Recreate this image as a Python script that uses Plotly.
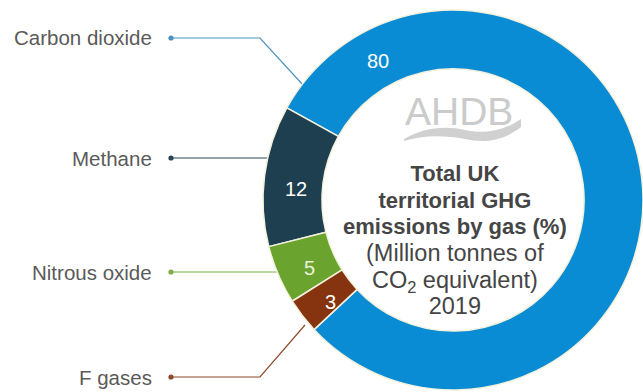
import plotly.graph_objects as go

W, H = 643, 392

# ---- data ----
gases = ["Carbon dioxide", "Methane", "Nitrous oxide", "F gases"]
shares = [80, 12, 5, 3]
colors = ["#0A8CD4", "#1E3F4F", "#6BA32F", "#86330F"]
line_colors = ["#4A93BE", "#2A4656", "#7DAF45", "#8E4A2A"]
value_text_colors = ["#FFFFFF", "#FFFFFF", "#E8F3D8", "#FFFFFF"]
value_pos_px = [(378, 61), (296, 189), (309, 268), (330, 302)]
label_y_px = [38, 158, 272, 377]

FONT = "Liberation Sans, Arial, Helvetica, sans-serif"


def px(x):
    return x / W


def py(y):
    return 1 - y / H


fig = go.Figure()

fig.add_trace(go.Pie(
    labels=gases,
    values=shares,
    textinfo="none",
    marker=dict(colors=colors, line=dict(color="#F4F1DC", width=1.5)),
    hole=0.69,
    sort=False,
    direction="counterclockwise",
    rotation=299,
    domain=dict(x=[263 / W, 1], y=[2 / H, 382 / H]),
    showlegend=False,
    hoverinfo="label+value",
))

annotations = []
shapes = []

# gas labels with leader lines
leader_paths = [
    [(171, 38), (260, 38), (303, 85)],
    [(171, 158), (270, 158)],
    [(171, 272), (279, 272)],
    [(171, 377), (260, 377), (305, 325)],
]
for name, yy, lc, pts in zip(gases, label_y_px, line_colors, leader_paths):
    annotations.append(dict(
        x=px(154), y=py(yy), xref="paper", yref="paper",
        text=name, showarrow=False, xanchor="right", yanchor="middle",
        font=dict(family=FONT, size=20.5, color="#5A5A5A"),
    ))
    path = "M " + " L ".join(f"{px(a):.5f},{py(b):.5f}" for a, b in pts)
    shapes.append(dict(type="path", xref="paper", yref="paper", path=path,
                       line=dict(color=lc, width=1.2), layer="below"))
    r = 2.6
    shapes.append(dict(type="circle", xref="paper", yref="paper",
                       x0=px(pts[0][0] - r), x1=px(pts[0][0] + r),
                       y0=py(pts[0][1] + r), y1=py(pts[0][1] - r),
                       fillcolor=lc, line=dict(width=0)))

# value labels on the ring
for v, (xx, yy), tc in zip(shares, value_pos_px, value_text_colors):
    annotations.append(dict(
        x=px(xx), y=py(yy), xref="paper", yref="paper", text=str(v),
        showarrow=False, xanchor="center", yanchor="middle",
        font=dict(family=FONT, size=20, color=tc),
    ))

# AHDB logo
annotations.append(dict(
    x=px(459), y=py(111), xref="paper", yref="paper", text="AHDB",
    showarrow=False, xanchor="center", yanchor="middle",
    font=dict(family=FONT, size=39, color="#CBCBCB"),
))


def P(a, b):
    return f"{px(a):.5f},{py(b):.5f}"


spath = (f"M {P(404, 139)} C {P(422, 128)} {P(445, 125)} {P(465, 130)} "
         f"C {P(482, 134)} {P(502, 132)} {P(521, 119)} "
         f"L {P(521, 127)} C {P(502, 142)} {P(482, 143)} {P(465, 139)} "
         f"C {P(445, 135)} {P(422, 135)} {P(404, 141)} Z")
shapes.append(dict(type="path", xref="paper", yref="paper", path=spath,
                   fillcolor="#D0D0D0", line=dict(width=0)))

# centre title
centre = ("<span style='font-size:22px'><b>Total UK</b></span><br>"
          "<span style='font-size:22px'><b>territorial GHG</b></span><br>"
          "<span style='font-size:22px'><b>emissions by gas (%)</b></span><br>"
          "<span style='font-size:23.5px'>(Million tonnes of</span><br>"
          "<span style='font-size:23.5px'>CO<sub>2</sub> equivalent)</span><br>"
          "<span style='font-size:23.5px'>2019</span>")
annotations.append(dict(
    x=px(455), y=py(240), xref="paper", yref="paper", text=centre,
    showarrow=False, xanchor="center", yanchor="middle", align="center",
    font=dict(family=FONT, size=20.5, color="#454545"),
))

fig.update_layout(
    width=W, height=H,
    margin=dict(l=0, r=0, t=0, b=0),
    paper_bgcolor="#FFFFFF",
    plot_bgcolor="#FFFFFF",
    annotations=annotations,
    shapes=shapes,
)

fig.write_html("out.html")
